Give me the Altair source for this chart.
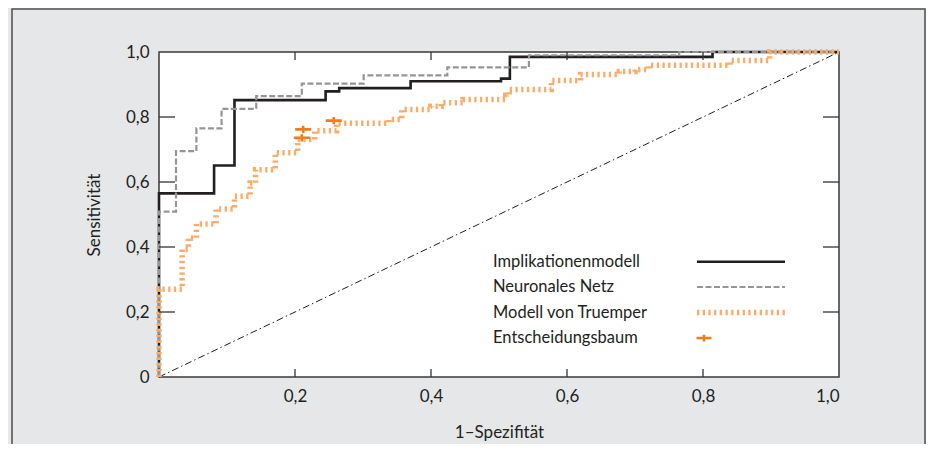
import altair as alt
import pandas as pd

# ---------------- data ----------------
series_names = ["Implikationenmodell", "Neuronales Netz", "Modell von Truemper", "Entscheidungsbaum"]

# step curves: at fpr x_i the curve rises to tpr y_i
impl_x = [0.0, 0.081, 0.111, 0.245, 0.265, 0.370, 0.503, 0.516, 0.814]
impl_y = [0.565, 0.651, 0.852, 0.879, 0.889, 0.910, 0.918, 0.985, 1.0]

nn_x = [0.0, 0.025, 0.055, 0.092, 0.143, 0.210, 0.301, 0.424, 0.544, 0.765]
nn_y = [0.509, 0.695, 0.765, 0.825, 0.864, 0.903, 0.928, 0.953, 0.990, 1.0]

tr_x = [0.0, 0.034, 0.043, 0.055, 0.084, 0.111, 0.134, 0.142, 0.171, 0.204, 0.229, 0.261, 0.338,
        0.357, 0.400, 0.415, 0.447, 0.510, 0.515, 0.577, 0.620, 0.677, 0.700, 0.720, 0.840, 0.898]
tr_y = [0.270, 0.392, 0.428, 0.471, 0.517, 0.556, 0.597, 0.638, 0.690, 0.731, 0.758, 0.781, 0.792,
        0.823, 0.833, 0.844, 0.854, 0.867, 0.885, 0.912, 0.931, 0.940, 0.946, 0.959, 0.974, 1.0]

dt_fpr = [0.212, 0.210, 0.257]
dt_tpr = [0.762, 0.736, 0.789]

diag_fpr = [0.0, 1.0]
diag_tpr = [0.0, 1.0]

x_tick_values = [0.2, 0.4, 0.6, 0.8, 1.0]
y_tick_values = [0.0, 0.2, 0.4, 0.6, 0.8, 1.0]
inner_ticks = [0.2, 0.4, 0.6, 0.8]


def step_frame(xs, ys):
    pts = [(0.0, 0.0)]
    prev = 0.0
    for x, y in zip(xs, ys):
        pts.append((x, prev))
        pts.append((x, y))
        prev = y
    pts.append((1.0, prev))
    return pd.DataFrame({"fpr": [p[0] for p in pts], "tpr": [p[1] for p in pts],
                         "ord": list(range(len(pts)))})


df_impl = step_frame(impl_x, impl_y)
df_nn = step_frame(nn_x, nn_y)
df_tr = step_frame(tr_x, tr_y)
df_dt = pd.DataFrame({"fpr": dt_fpr, "tpr": dt_tpr})
df_diag = pd.DataFrame({"fpr": diag_fpr, "tpr": diag_tpr, "ord": [0, 1]})
df_xt = pd.DataFrame({"fpr": inner_ticks})
df_yt = pd.DataFrame({"tpr": inner_ticks})
one = pd.DataFrame({"a": [0]})

# ---------------- styling ----------------
W, H = 680, 325
PAD_L, PAD_T = 151, 44
TOTAL_W, TOTAL_H = 918, 436
FONT = "Lato"
TXT = "#231f20"
xs = alt.Scale(domain=[0, 1], nice=False, zero=False)
ys = alt.Scale(domain=[0, 1], nice=False, zero=False)

xaxis = alt.Axis(values=x_tick_values, title="1–Spezifität",
                 labelExpr="replace(format(datum.value, '.1f'), '.', ',')",
                 ticks=False, domain=False, grid=False, labelPadding=11,
                 titlePadding=20)
yaxis = alt.Axis(values=y_tick_values, title="Sensitivität",
                 labelExpr="datum.value == 0 ? '0' : replace(format(datum.value, '.1f'), '.', ',')",
                 ticks=False, domain=False, grid=False, labelPadding=10,
                 titlePadding=22)


def X(field="fpr"):
    return alt.X(f"{field}:Q", scale=xs, axis=xaxis)


def Y(field="tpr"):
    return alt.Y(f"{field}:Q", scale=ys, axis=yaxis)


frame = alt.Chart(one).mark_rect(fill=None, stroke="#4d4d4f", strokeWidth=1.5, clip=False).encode(
    x=alt.value(4 - PAD_L), x2=alt.value(TOTAL_W - 1 - PAD_L),
    y=alt.value(1 - PAD_T), y2=alt.value(TOTAL_H + 20 - PAD_T))

diag = alt.Chart(df_diag).mark_line(color="#231f20", strokeWidth=1, strokeDash=[7, 3, 1.5, 3],
                                    clip=False).encode(x=X(), y=Y(), order="ord:Q")

impl = alt.Chart(df_impl).mark_line(color="#231f20", strokeWidth=2.6, clip=False,
                                    strokeJoin="miter").encode(x=X(), y=Y(), order="ord:Q")
nn = alt.Chart(df_nn).mark_line(color="#959595", strokeWidth=2.2, strokeDash=[6, 2.5],
                                clip=False).encode(x=X(), y=Y(), order="ord:Q")
tr = alt.Chart(df_tr).mark_line(color="#fbac68", strokeWidth=5.5, strokeDash=[2.3, 3.4],
                                clip=False).encode(x=X(), y=Y(), order="ord:Q")

PLUS = "M-1,0L1,0M0,-0.45L0,0.45"
dt = alt.Chart(df_dt).mark_point(shape=PLUS, size=256, stroke="#f07d1a", strokeWidth=2.6,
                                 filled=False, opacity=1).encode(x=X(), y=Y())

tick_style = dict(color="#333333", strokeWidth=1.3)
yt_left = alt.Chart(df_yt).mark_rule(**tick_style).encode(y=Y(), x=alt.value(0), x2=alt.value(16))
yt_right = alt.Chart(df_yt).mark_rule(**tick_style).encode(y=Y(), x=alt.value(W - 16), x2=alt.value(W))
xt_bot = alt.Chart(df_xt).mark_rule(**tick_style).encode(x=X(), y=alt.value(H), y2=alt.value(H - 8))
xt_top = alt.Chart(df_xt).mark_rule(**tick_style).encode(x=X(), y=alt.value(0), y2=alt.value(8))

# ---------------- legend (drawn by hand, bottom right) ----------------
leg_rows = [209.7, 235.0, 260.5, 286.0]
leg_layers = []
for name, ry in zip(series_names, leg_rows):
    leg_layers.append(
        alt.Chart(pd.DataFrame({"label": [name]})).mark_text(
            align="left", baseline="middle", font=FONT, fontSize=16.5, color=TXT
        ).encode(x=alt.value(334), y=alt.value(ry), text="label:N"))

leg_layers.append(alt.Chart(one).mark_rule(color="#231f20", strokeWidth=2.6).encode(
    x=alt.value(538), x2=alt.value(626), y=alt.value(leg_rows[0])))
leg_layers.append(alt.Chart(one).mark_rule(color="#959595", strokeWidth=2.2, strokeDash=[6, 2.5]).encode(
    x=alt.value(538), x2=alt.value(626), y=alt.value(leg_rows[1])))
leg_layers.append(alt.Chart(one).mark_rule(color="#fbac68", strokeWidth=5.5, strokeDash=[2.3, 3.4]).encode(
    x=alt.value(538), x2=alt.value(626), y=alt.value(leg_rows[2])))
leg_layers.append(alt.Chart(one).mark_point(shape=PLUS, size=225, stroke="#f07d1a", strokeWidth=2.6,
                                            filled=False, opacity=1).encode(
    x=alt.value(545), y=alt.value(leg_rows[3])))

chart = alt.layer(
    frame, diag, impl, nn, tr, dt, yt_left, yt_right, xt_bot, xt_top, *leg_layers
).properties(
    width=W, height=H,
    autosize=alt.AutoSizeParams(type="none"),
    padding={"left": PAD_L, "top": PAD_T, "right": TOTAL_W - PAD_L - W, "bottom": TOTAL_H - PAD_T - H},
    background="#e6e7e9",
).configure_view(
    fill="white", stroke="#3a3a3a", strokeWidth=1.5
).configure_axis(
    labelFont=FONT, labelFontSize=17, labelColor=TXT,
    titleFont=FONT, titleFontSize=17, titleColor=TXT, titleFontWeight="normal",
)

chart.save("out.html", embed_options={"renderer": "svg", "actions": False})
